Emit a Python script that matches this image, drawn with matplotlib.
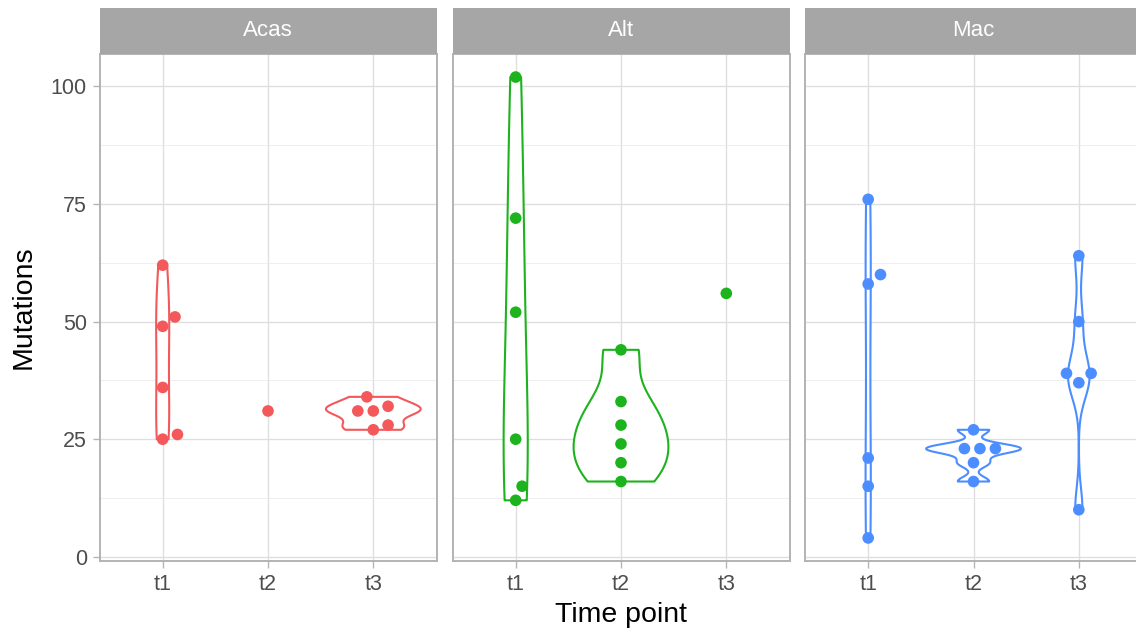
import numpy as np
import matplotlib
matplotlib.use("Agg")
import matplotlib.pyplot as plt
from matplotlib.patches import Polygon

# ---- data -------------------------------------------------------------
species = ["Acas", "Alt", "Mac"]
time_points = ["t1", "t2", "t3"]
species_colors = ["#F4585B", "#1DB31D", "#4C8DFF"]

acas_t1 = [62, 51, 49, 36, 26, 25]
acas_t2 = [31]
acas_t3 = [34, 32, 31, 31, 28, 27]

alt_t1 = [102, 72, 52, 25, 15, 12]
alt_t2 = [44, 33, 28, 24, 20, 16]
alt_t3 = [56]

mac_t1 = [76, 60, 58, 21, 15, 4]
mac_t2 = [27, 23, 23, 23, 20, 16]
mac_t3 = [64, 50, 39, 39, 37, 10]

mutations = {
    "Acas": [acas_t1, acas_t2, acas_t3],
    "Alt": [alt_t1, alt_t2, alt_t3],
    "Mac": [mac_t1, mac_t2, mac_t3],
}

y_ticks = [0, 25, 50, 75, 100]
y_minor_ticks = [12.5, 37.5, 62.5, 87.5]

# ---- helpers ----------------------------------------------------------
def bw_nrd0(x):
    x = np.asarray(x, float)
    hi = np.std(x, ddof=1)
    q75, q25 = np.percentile(x, [75, 25])
    lo = min(hi, (q75 - q25) / 1.34)
    if lo == 0:
        lo = hi if hi > 0 else (abs(x[0]) if x[0] != 0 else 1.0)
    return 0.9 * lo * len(x) ** (-0.2)


def trimmed_density(x, n=512):
    x = np.asarray(x, float)
    bw = bw_nrd0(x)
    grid = np.linspace(x.min(), x.max(), n)
    z = (grid[:, None] - x[None, :]) / bw
    dens = np.exp(-0.5 * z ** 2).sum(axis=1) / (len(x) * bw * np.sqrt(2 * np.pi))
    return grid, dens


def swarm_offsets(values, x_px, y_px, diameter):
    """Horizontal offsets (data units) so that markers of the given pixel
    diameter do not overlap, placing the lowest values first."""
    values = np.asarray(values, float)
    order = np.argsort(values, kind="stable")
    placed = []
    offsets = np.zeros(len(values))
    for i in order:
        y = values[i] * y_px
        bounds = []
        for px, py in placed:
            dy = abs(y - py)
            if dy < diameter:
                h = np.sqrt(diameter ** 2 - dy ** 2)
                bounds.append((px - h, px + h))
        cands = [0.0] + [b for iv in bounds for b in iv]
        valid = [c for c in cands
                 if all(not (lo + 1e-9 < c < hi - 1e-9) for lo, hi in bounds)]
        best = min(valid, key=lambda c: (abs(c), -c))
        offsets[i] = best / x_px
        placed.append((best, y))
    return offsets


# ---- figure layout ----------------------------------------------------
plt.rcParams["font.family"] = ["Liberation Sans", "DejaVu Sans"]

W, H = 1136, 634
fig = plt.figure(figsize=(W / 100, H / 100), dpi=100)

panel_left_px = [99.5, 452.5, 805.0]
panel_w_px = 337.0
panel_top_px, panel_bottom_px = 54.0, 561.0
strip_top_px = 8.0

all_vals = np.concatenate([np.asarray(v, float) for s in species for v in mutations[s]])
span = all_vals.max() - all_vals.min()
ylim = (all_vals.min() - 0.05 * span, all_vals.max() + 0.05 * span)
xlim = (0.4, 3.6)

x_px_per_unit = panel_w_px / (xlim[1] - xlim[0])
y_px_per_unit = (panel_bottom_px - panel_top_px) / (ylim[1] - ylim[0])

grey30 = "#4D4D4D"
grey70 = "#B3B3B3"
strip_fill = "#A6A6A6"
tick_size = 15.5
strip_size = 16
title_size = 20.5

for k, sp in enumerate(species):
    left = panel_left_px[k] / W
    bottom = 1 - panel_bottom_px / H
    width = panel_w_px / W
    height = (panel_bottom_px - panel_top_px) / H
    ax = fig.add_axes([left, bottom, width, height])
    color = species_colors[k]
    groups = mutations[sp]
    positions = np.arange(1, len(time_points) + 1)

    # violins, area-scaled within the panel
    dens_list = []
    for vals in groups:
        if len(vals) >= 2:
            dens_list.append(trimmed_density(vals))
        else:
            dens_list.append(None)
    max_d = max(d[1].max() for d in dens_list if d is not None)
    for pos, d in zip(positions, dens_list):
        if d is None:
            continue
        grid, dens = d
        hw = 0.45 * dens / max_d
        xs = np.concatenate([pos - hw, (pos + hw)[::-1]])
        ys = np.concatenate([grid, grid[::-1]])
        poly = Polygon(np.column_stack([xs, ys]), closed=True,
                       facecolor="white", edgecolor=color,
                       linewidth=1.5, zorder=2, joinstyle="round")
        ax.add_patch(poly)

    # points
    for pos, vals in zip(positions, groups):
        offs = swarm_offsets(vals, x_px_per_unit, y_px_per_unit, 15.5)
        ax.scatter(pos + offs, vals, s=70, color=color, edgecolors="none",
                   zorder=3)

    ax.set_xlim(*xlim)
    ax.set_ylim(*ylim)
    ax.set_xticks(positions)
    ax.set_xticklabels(time_points)
    ax.set_yticks(y_ticks)
    ax.set_yticks(y_minor_ticks, minor=True)
    ax.set_axisbelow(True)
    ax.grid(which="major", color="#DEDEDE", linewidth=0.95)
    ax.grid(which="minor", axis="y", color="#E8E8E8", linewidth=0.5)
    ax.tick_params(which="major", length=5, width=0.95, color=grey70,
                   labelsize=tick_size, labelcolor=grey30, pad=4)
    ax.tick_params(which="minor", length=0)
    if k == 0:
        ax.set_yticklabels([str(t) for t in y_ticks])
    else:
        ax.tick_params(axis="y", which="both", left=False, labelleft=False)
    for spine in ax.spines.values():
        spine.set_color(grey70)
        spine.set_linewidth(1.4)

    # facet strip
    sax = fig.add_axes([left, 1 - panel_top_px / H, width,
                        (panel_top_px - strip_top_px) / H])
    sax.set_facecolor(strip_fill)
    sax.set_xticks([])
    sax.set_yticks([])
    for spine in sax.spines.values():
        spine.set_visible(False)
    sax.text(0.5, 0.5, sp, color="white", fontsize=strip_size,
             ha="center", va="center", transform=sax.transAxes)

# axis titles
fig.text((panel_left_px[0] + panel_left_px[2] + panel_w_px) / 2 / W,
         1 - 615 / H, "Time point", fontsize=title_size, color="black",
         ha="center", va="center")
fig.text(24 / W, 1 - (panel_top_px + panel_bottom_px) / 2 / H, "Mutations",
         fontsize=title_size, color="black", rotation=90,
         ha="center", va="center")

fig.savefig("out.png", dpi=100, facecolor="white")
